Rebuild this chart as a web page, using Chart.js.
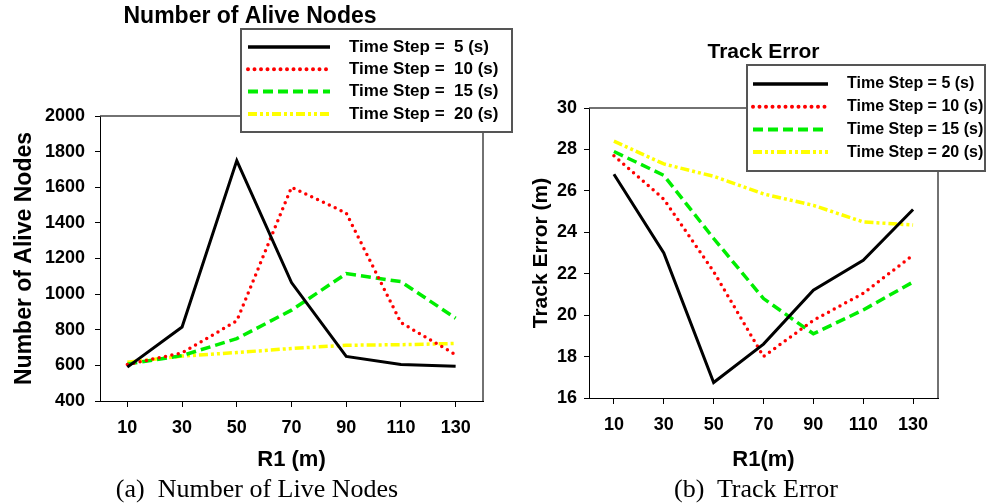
<!DOCTYPE html>
<html>
<head>
<meta charset="utf-8">
<script src="https://cdn.jsdelivr.net/npm/chart.js@4.4.0/dist/chart.umd.min.js"></script>
<style>
  body { margin: 0; background: #fff; width: 986px; height: 503px; overflow: hidden; position: relative; }
  .box { position: absolute; top: 0; height: 475px; }
  #leftBox { left: 0; width: 520px; }
  #rightBox { left: 505px; width: 481px; }
  .caption { position: absolute; top: 476px; width: 320px; text-align: center; font-family: "Liberation Serif", "Times New Roman", serif; font-size: 26px; line-height: 25px; white-space: pre; color: #000; }
  #capA { left: 97px; }
  #capB { left: 596px; }
</style>
</head>
<body>
<div class="box" id="leftBox"><canvas id="aliveChart"></canvas></div>
<div class="box" id="rightBox"><canvas id="errorChart"></canvas></div>
<div class="caption" id="capA">(a)  Number of Live Nodes</div>
<div class="caption" id="capB">(b)  Track Error</div>
<script>
// R1 values (m) shared by both panels
const r1Labels = ['10', '30', '50', '70', '90', '110', '130'];

// (a) number of alive nodes, one array per time step
const alive5 = [590, 815, 1750, 1065, 650, 605, 595];
const alive10 = [605, 670, 850, 1600, 1455, 840, 660];
const alive15 = [607, 655, 750, 910, 1115, 1070, 865];
const alive20 = [617, 652, 672, 695, 713, 716, 723];
const aliveLabels = ['Time Step =  5 (s)', 'Time Step =  10 (s)', 'Time Step =  15 (s)', 'Time Step =  20 (s)'];

// (b) track error (m)
const err5 = [26.8, 23.0, 16.75, 18.6, 21.2, 22.65, 25.1];
const err10 = [27.7, 25.6, 22.1, 18.0, 19.75, 21.05, 22.9];
const err15 = [27.9, 26.75, 23.7, 20.8, 19.1, 20.25, 21.6];
const err20 = [28.4, 27.3, 26.7, 25.85, 25.3, 24.5, 24.35];
const errLabels = ['Time Step = 5 (s)', 'Time Step = 10 (s)', 'Time Step = 15 (s)', 'Time Step = 20 (s)'];

Chart.defaults.font.family = '"Liberation Sans", Arial, sans-serif';
Chart.defaults.color = '#000';

// line styles for the four time steps
const styles = [
    { borderColor: '#000000', borderWidth: 3, borderDash: [], borderCapStyle: 'butt' },
    { borderColor: '#ff0000', borderWidth: 3.5, borderDash: [0, 6.5], borderCapStyle: 'round' },
    { borderColor: '#00ee00', borderWidth: 3.5, borderDash: [10, 5], borderCapStyle: 'butt' },
    { borderColor: '#ffff00', borderWidth: 3.5, borderDash: [9, 3, 3, 3, 3, 3], borderCapStyle: 'butt' }
];

function makeDatasets(series, labels) {
    return series.map((data, i) => ({
        label: labels[i],
        data: data,
        fill: false,
        tension: 0,
        pointRadius: 0,
        pointHoverRadius: 0,
        ...styles[i]
    }));
}

// draws the top/right frame of the plot and the boxed legend
const frameAndLegend = {
    id: 'frameAndLegend',
    afterDraw(chart, args, opts) {
        const ctx = chart.ctx;
        const a = chart.chartArea;
        ctx.save();
        ctx.strokeStyle = '#444';
        ctx.lineWidth = 1.5;
        ctx.beginPath();
        ctx.moveTo(a.left, a.top);
        ctx.lineTo(a.right, a.top);
        ctx.lineTo(a.right, a.bottom);
        ctx.stroke();

        const b = opts.box;
        ctx.fillStyle = '#fff';
        ctx.fillRect(b.x, b.y, b.w, b.h);
        ctx.lineWidth = 2;
        ctx.strokeStyle = '#555';
        ctx.strokeRect(b.x, b.y, b.w, b.h);
        ctx.font = 'bold ' + opts.fontSize + 'px "Liberation Sans", Arial, sans-serif';
        ctx.textBaseline = 'middle';
        ctx.textAlign = 'left';
        chart.data.datasets.forEach((ds, i) => {
            const y = b.y + opts.firstRow + i * opts.rowGap;
            ctx.strokeStyle = ds.borderColor;
            ctx.lineWidth = ds.borderWidth + 0.5;
            ctx.setLineDash(ds.borderDash);
            ctx.lineCap = ds.borderCapStyle;
            ctx.beginPath();
            ctx.moveTo(b.x + opts.sampleFrom, y);
            ctx.lineTo(b.x + opts.sampleTo, y);
            ctx.stroke();
            ctx.setLineDash([]);
            ctx.fillStyle = '#000';
            ctx.fillText(ds.label, b.x + opts.textX, y);
        });
        ctx.restore();
    }
};

function axisX(title, height) {
    return {
        type: 'category',
        offset: true,
        grid: { drawOnChartArea: false, color: '#000', tickLength: 6 },
        border: { display: true, color: '#000', width: 1 },
        ticks: { font: { size: 18, weight: 'bold' }, color: '#000', padding: 10, maxRotation: 0, autoSkip: false },
        title: { display: true, text: title, color: '#000', font: { size: 22, weight: 'bold' }, padding: { top: 0, bottom: 2 } },
        afterFit: s => { s.height = height; }
    };
}

function axisY(min, max, step, title, titleSize, titlePad, width, tickPad) {
    return {
        min: min,
        max: max,
        grid: { drawOnChartArea: false, color: '#000', tickLength: 5 },
        border: { display: true, color: '#000', width: 1 },
        ticks: { stepSize: step, font: { size: 18, weight: 'bold' }, color: '#000', padding: tickPad, callback: v => String(v) },
        title: { display: true, text: title, color: '#000', font: { size: titleSize, weight: 'bold' }, padding: { top: titlePad, bottom: 0 } },
        afterFit: s => { s.width = width; }
    };
}

new Chart(document.getElementById('aliveChart'), {
    type: 'line',
    data: {
        labels: r1Labels,
        datasets: makeDatasets([alive5, alive10, alive15, alive20], aliveLabels)
    },
    options: {
        responsive: true,
        maintainAspectRatio: false,
        animation: false,
        layout: { padding: { left: 17, right: 37, top: 0, bottom: 0 } },
        plugins: {
            legend: { display: false },
            tooltip: { enabled: false },
            title: {
                display: true, fullSize: true, text: 'Number of Alive Nodes', color: '#000',
                font: { size: 23, weight: 'bold' }, padding: { top: 3, bottom: 85.4 }
            },
            frameAndLegend: { box: { x: 241, y: 29, w: 271, h: 103 }, firstRow: 18, rowGap: 22.3, sampleFrom: 7, sampleTo: 89, textX: 108, fontSize: 17 }
        },
        scales: {
            x: axisX('R1 (m)', 74),
            y: axisY(400, 2000, 200, 'Number of Alive Nodes', 23, -6.5, 83, 10)
        }
    },
    plugins: [frameAndLegend]
});

new Chart(document.getElementById('errorChart'), {
    type: 'line',
    data: {
        labels: r1Labels,
        datasets: makeDatasets([err5, err10, err15, err20], errLabels)
    },
    options: {
        responsive: true,
        maintainAspectRatio: false,
        animation: false,
        layout: { padding: { left: 0, right: 48, top: 0, bottom: 0 } },
        plugins: {
            legend: { display: false },
            tooltip: { enabled: false },
            title: {
                display: true, fullSize: false, text: 'Track Error', color: '#000',
                font: { size: 21, weight: 'bold' }, padding: { top: 40, bottom: 42.8 }
            },
            frameAndLegend: { box: { x: 242, y: 65, w: 238, h: 106 }, firstRow: 19, rowGap: 22.7, sampleFrom: 6, sampleTo: 81, textX: 100, fontSize: 16 }
        },
        scales: {
            x: axisX('R1(m)', 77),
            y: axisY(16, 30, 2, 'Track Error (m)', 21, 23.4, 84, 7)
        }
    },
    plugins: [frameAndLegend]
});
</script>
</body>
</html>
